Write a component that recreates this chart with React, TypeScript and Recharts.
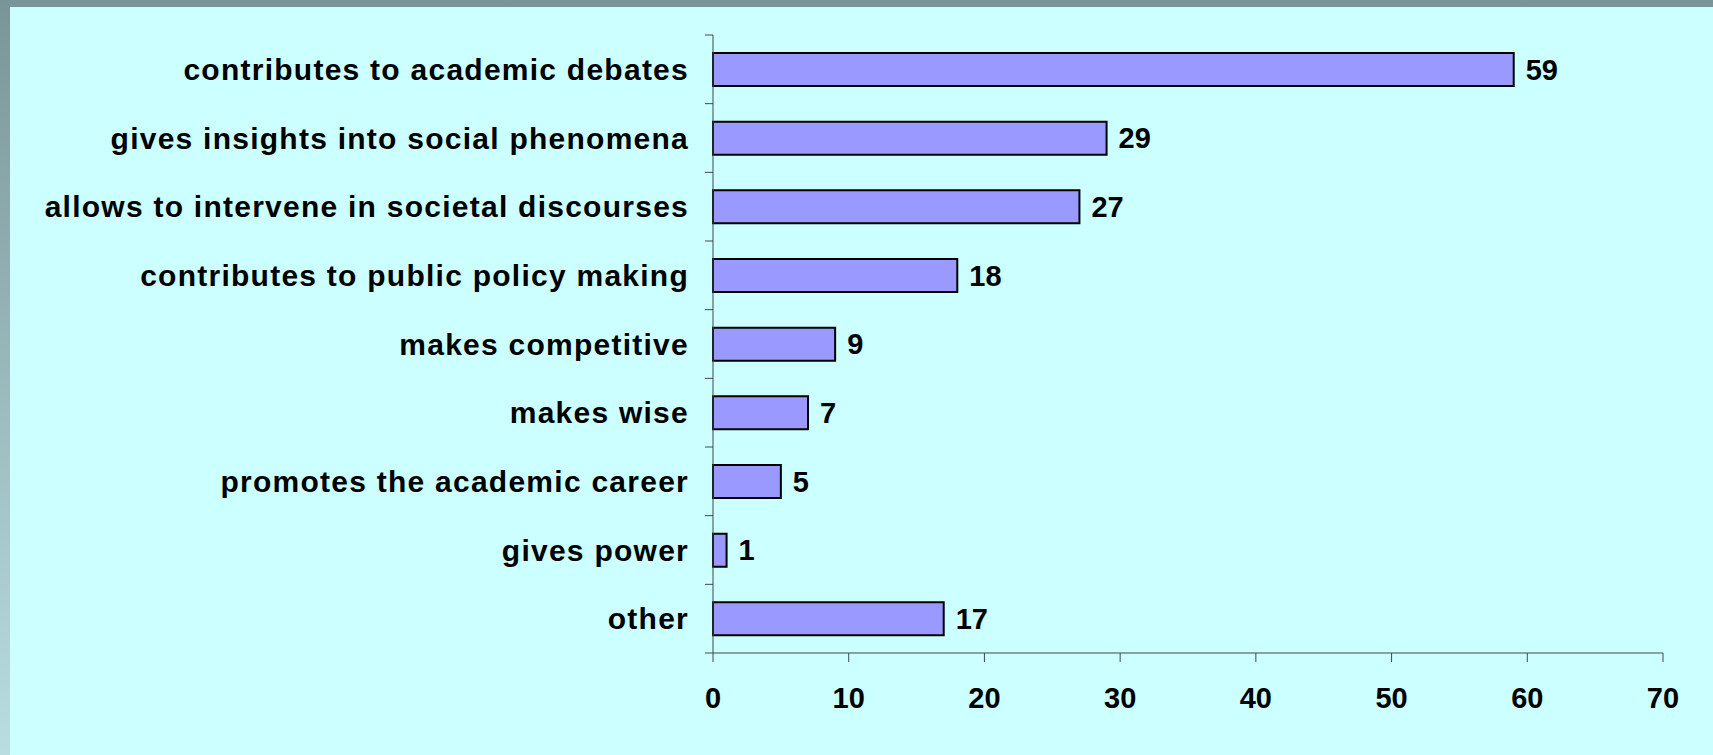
import { BarChart, Bar, XAxis, YAxis, LabelList } from "recharts";

const categories = [
  "contributes to academic debates",
  "gives insights into social phenomena",
  "allows to intervene in societal discourses",
  "contributes to public policy making",
  "makes competitive",
  "makes wise",
  "promotes the academic career",
  "gives power",
  "other",
];
const values = [59, 29, 27, 18, 9, 7, 5, 1, 17];
const xTicks = [0, 10, 20, 30, 40, 50, 60, 70];

const W = 1713;
const H = 755;
const AXIS_X = 713;
const PLOT_TOP = 35;
const PLOT_BOTTOM = 653;
const font = "'Liberation Sans', Arial, Helvetica, sans-serif";
const axisStroke = "#3c4a4a";

const data = categories.map((name, i) => ({ name, value: values[i] }));
const half = (PLOT_BOTTOM - PLOT_TOP) / categories.length / 2;

function CatTick(props: any) {
  const { y, payload, index } = props;
  const last = index === categories.length - 1;
  return (
    <g>
      <line x1={AXIS_X - 8} x2={AXIS_X} y1={y - half} y2={y - half} stroke={axisStroke} />
      {last && <line x1={AXIS_X - 8} x2={AXIS_X} y1={y + half} y2={y + half} stroke={axisStroke} />}
      <text
        x={AXIS_X - 24}
        y={y}
        dy="0.355em"
        textAnchor="end"
        fill="#000"
        fontSize={30}
        fontWeight={700}
        fontFamily={font}
        letterSpacing={1.25}
      >
        {payload.value}
      </text>
    </g>
  );
}

export default function App() {
  return (
    <div
      style={{
        position: "absolute",
        left: 0,
        top: 0,
        width: W,
        height: H,
        background: "linear-gradient(to bottom, #7a9597, #b9dde1)",
      }}
    >
      <div style={{ position: "absolute", left: 10, top: 7, right: 0, bottom: 0, background: "#ccffff" }} />
      <div style={{ position: "absolute", left: 0, top: 0 }}>
        <BarChart
          width={W}
          height={H}
          data={data}
          layout="vertical"
          margin={{ top: PLOT_TOP, right: 50, left: 0, bottom: 0 }}
        >
          <XAxis
            type="number"
            domain={[0, 70]}
            ticks={xTicks}
            interval={0}
            height={H - PLOT_BOTTOM}
            tickSize={9}
            tickMargin={25}
            axisLine={{ stroke: axisStroke }}
            tickLine={{ stroke: axisStroke }}
            tick={{ fill: "#000", fontSize: 29, fontWeight: 700, fontFamily: font }}
          />
          <YAxis
            type="category"
            dataKey="name"
            width={AXIS_X}
            interval={0}
            axisLine={{ stroke: axisStroke }}
            tickLine={false}
            tick={<CatTick />}
          />
          <Bar dataKey="value" fill="#9999ff" stroke="#000" strokeWidth={2} barSize={33} isAnimationActive={false}>
            <LabelList
              dataKey="value"
              position="right"
              offset={12}
              fill="#000"
              fontSize={29}
              fontWeight={700}
              fontFamily={font}
            />
          </Bar>
        </BarChart>
      </div>
    </div>
  );
}
